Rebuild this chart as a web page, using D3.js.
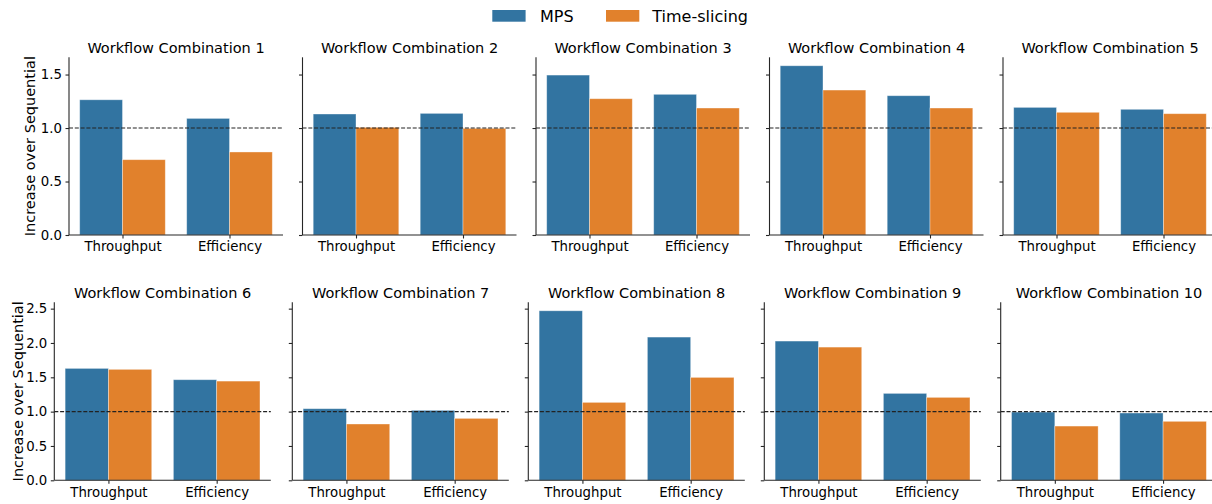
<!DOCTYPE html>
<html>
<head>
<meta charset="utf-8">
<script src="https://cdn.jsdelivr.net/npm/d3@7"></script>
<style>
  html, body { margin: 0; padding: 0; background: #fff; }
  svg { display: block; font-family: "DejaVu Sans", sans-serif; }
</style>
</head>
<body>
<svg id="chart" width="1212" height="504"></svg>
<script>
// ---- data ----
const titles = ["Workflow Combination 1","Workflow Combination 2","Workflow Combination 3","Workflow Combination 4","Workflow Combination 5",
                "Workflow Combination 6","Workflow Combination 7","Workflow Combination 8","Workflow Combination 9","Workflow Combination 10"];
const metrics = ["Throughput", "Efficiency"];
const seriesNames = ["MPS", "Time-slicing"];
// [Throughput, Efficiency] per combination
const mpsValues = [
  [1.264, 1.090], [1.131, 1.137], [1.495, 1.315], [1.582, 1.302], [1.193, 1.175],
  [1.630, 1.465], [1.043, 1.019], [2.469, 2.086], [2.028, 1.266], [0.994, 0.980]
];
const tsValues = [
  [0.704, 0.776], [1.006, 0.997], [1.274, 1.187], [1.355, 1.187], [1.147, 1.134],
  [1.616, 1.445], [0.820, 0.902], [1.135, 1.499], [1.940, 1.208], [0.790, 0.859]
];
const topTicks = [0, 0.5, 1.0, 1.5];
const bottomTicks = [0, 0.5, 1.0, 1.5, 2.0, 2.5];
const yLabel = "Increase over Sequential";
const refValue = 1.0;

const colors = ["#3274a1", "#e1812c"];

// ---- layout ----
const rows = [
  { lefts: [69, 302.5, 536, 769.5, 1003], width: 214, top: 57.3, bottom: 235, ticks: topTicks, idx: [0,1,2,3,4], ylabelX: 30, titleY: 53.3 },
  { lefts: [54.3, 292.3, 528.3, 764.3, 1000.7], width: 216.5, top: 302.3, bottom: 480.3, ticks: bottomTicks, idx: [5,6,7,8,9], ylabelX: 17.5, titleY: 297.6 }
];

const svg = d3.select("#chart");
const axisColor = "#262626";

rows.forEach(row => {
  const rowMax = d3.max(row.idx, i => Math.max(d3.max(mpsValues[i]), d3.max(tsValues[i])));
  const y = d3.scaleLinear().domain([0, rowMax * 1.05]).range([row.bottom, row.top]);

  row.idx.forEach((pi, col) => {
    const left = row.lefts[col];
    const g = svg.append("g").attr("transform", `translate(${left},0)`);
    const x = d3.scaleBand().domain(metrics).range([0, row.width]).paddingInner(0.2).paddingOuter(0.1);
    // scaleBand: with inner 0.2, outer 0.1 -> bandwidth 0.8 unit of step; step = width/2
    const step = row.width / metrics.length;
    const xc = d3.scalePoint().domain(metrics).range([step / 2, row.width - step / 2]);
    const bw = step * 0.4;
    const xs = d3.scaleBand().domain(seriesNames).range([-bw, bw]);

    const data = [];
    metrics.forEach((m, mi) => {
      data.push({ m, s: seriesNames[0], v: mpsValues[pi][mi], c: colors[0] });
      data.push({ m, s: seriesNames[1], v: tsValues[pi][mi], c: colors[1] });
    });

    g.selectAll("rect.bar").data(data).enter().append("rect")
      .attr("class", "bar")
      .attr("x", d => xc(d.m) + xs(d.s))
      .attr("width", xs.bandwidth())
      .attr("y", d => y(d.v))
      .attr("height", d => y(0) - y(d.v))
      .attr("fill", d => d.c)
      .attr("stroke", "#ffffff")
      .attr("stroke-opacity", 0.45)
      .attr("stroke-width", 0.8);

    // reference line
    g.append("line")
      .attr("x1", 0).attr("x2", row.width)
      .attr("y1", y(refValue)).attr("y2", y(refValue))
      .attr("stroke", "#222").attr("stroke-width", 1.1)
      .attr("stroke-dasharray", "4,1.8");

    // y axis
    const yAxis = d3.axisLeft(y).tickValues(row.ticks).tickSize(3.5).tickPadding(3.5)
      .tickFormat(col === 0 ? d3.format(".1f") : () => "");
    const ya = g.append("g").call(yAxis);
    ya.select(".domain").attr("d", `M0,${row.top}V${row.bottom}`).attr("stroke", axisColor).attr("stroke-width", 1.1);
    ya.selectAll(".tick line").attr("stroke", axisColor).attr("stroke-width", 1.1);
    ya.selectAll(".tick text").attr("font-size", "13.3px").attr("fill", "#000")
      .attr("font-family", "DejaVu Sans");

    // x axis
    const xAxis = d3.axisBottom(xc).tickSize(3.5).tickPadding(3.5);
    const xa = g.append("g").attr("transform", `translate(0,${row.bottom})`).call(xAxis);
    xa.select(".domain").attr("d", `M0,0H${row.width}`).attr("stroke", axisColor).attr("stroke-width", 1.1);
    xa.selectAll(".tick line").attr("stroke", axisColor).attr("stroke-width", 1.1);
    xa.selectAll(".tick text").attr("font-size", "13.3px").attr("fill", "#000")
      .attr("font-family", "DejaVu Sans");

    // title
    g.append("text")
      .attr("x", row.width / 2).attr("y", row.titleY)
      .attr("text-anchor", "middle")
      .attr("font-size", "14.5px").attr("fill", "#000")
      .text(titles[pi]);
  });

  // y label
  const cy = (row.top + row.bottom) / 2;
  svg.append("text")
    .attr("transform", `translate(${row.ylabelX},${cy}) rotate(-90)`)
    .attr("text-anchor", "middle")
    .attr("dominant-baseline", "central")
    .attr("font-size", "14.5px").attr("fill", "#000")
    .text(yLabel);
});

// legend
const legendItems = [
  { name: seriesNames[0], color: colors[0], x: 492.3, tx: 540 },
  { name: seriesNames[1], color: colors[1], x: 606, tx: 652.3 }
];
const lg = svg.append("g");
legendItems.forEach(it => {
  lg.append("rect").attr("x", it.x).attr("y", 10).attr("width", 33.3).attr("height", 11.7).attr("fill", it.color);
  lg.append("text").attr("x", it.tx).attr("y", 21.5).attr("font-size", "16px").attr("fill", "#000").text(it.name);
});
</script>
</body>
</html>
